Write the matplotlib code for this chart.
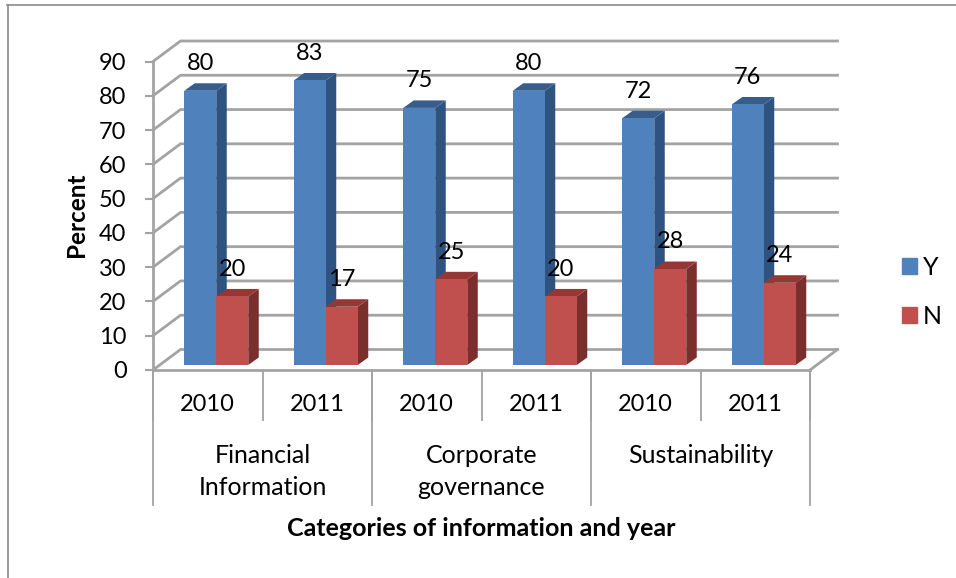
import numpy as np
import matplotlib
matplotlib.use("Agg")
import matplotlib.pyplot as plt
from matplotlib.lines import Line2D
from matplotlib.patches import Patch
from matplotlib.transforms import blended_transform_factory

years = ["2010", "2011", "2010", "2011", "2010", "2011"]
groups = ["Financial\nInformation", "Corporate\ngovernance", "Sustainability"]
yes_vals = [80, 83, 75, 80, 72, 76]
no_vals = [20, 17, 25, 20, 28, 24]
yticks = [0, 10, 20, 30, 40, 50, 60, 70, 80, 90]

W, H = 956, 578
plt.rcParams["font.family"] = ["Lato", "DejaVu Sans"]
GRID = "#a3a3a3"

fig = plt.figure(figsize=(W / 100, H / 100), dpi=100, facecolor="white")
ax = fig.add_axes([153 / W, (H - 370) / H, 657 / W, 308.5 / H])
ax.set_xlim(0, 6)
ax.set_ylim(0, 90)
ax.patch.set_visible(False)

# pixel to data scale, the fake 3d depth is set in pixels
px = 6 / 657
py = 90 / 308.5

# outer chart frame
fig.add_artist(Line2D([7.5 / W, 7.5 / W], [0, 1 - 4.5 / H], color="#8a8a8a", lw=1.2))
fig.add_artist(Line2D([7 / W, 1], [1 - 4.5 / H, 1 - 4.5 / H], color="#8a8a8a", lw=1.2))

# back wall lines and side wall diagonals
wall_x, wall_y = 27.5 * px, 20.5 * py
for t in yticks:
    ax.plot([0, wall_x, 6 + wall_x], [t, t + wall_y, t + wall_y], color=GRID, lw=2,
            clip_on=False, zorder=1, solid_joinstyle="miter")
ax.plot([6, 6 + wall_x], [0, wall_y], color=GRID, lw=2, clip_on=False, zorder=1)

bar_w = 32 * px
off_x, lift = 8.5 * px, 5 * py
depth_x, depth_y = 10.5 * px, 7.5 * py


def bars(left, vals, front, side, top):
    for i, v in zip(left, vals):
        x0, x1, y0, y1 = i, i + bar_w, lift, lift + v
        ax.fill([x1, x1 + depth_x, x1 + depth_x, x1],
                [y0, y0 + depth_y, y1 + depth_y, y1], color=side, lw=0, clip_on=False, zorder=3)
        ax.fill([x0, x0 + depth_x, x1 + depth_x, x1],
                [y1, y1 + depth_y, y1 + depth_y, y1], color=top, lw=0, clip_on=False, zorder=3)
    ax.bar(left, vals, bar_w, bottom=lift, align="edge", color=front, lw=0, clip_on=False, zorder=3)


centers = np.arange(len(years)) + 0.5 + off_x
# blue first, the red column stands in front of its side face
bars(centers - bar_w, yes_vals, "#4f81bd", "#2f5380", "#385d8a")
bars(centers, no_vals, "#c0504d", "#7b2f2d", "#953735")

for c, y, n in zip(centers, yes_vals, no_vals):
    ax.annotate(str(y), (c - bar_w / 2, lift + y), xytext=(0, 19.5), textcoords="offset points",
                ha="center", va="center", fontsize=17, color="black", zorder=5)
    ax.annotate(str(n), (c + bar_w / 2, lift + n), xytext=(0, 19.5), textcoords="offset points",
                ha="center", va="center", fontsize=17, color="black", zorder=5)

for s in ["top", "right"]:
    ax.spines[s].set_visible(False)
for s in ["left", "bottom"]:
    ax.spines[s].set_color(GRID)
    ax.spines[s].set_linewidth(2)

ax.set_yticks(yticks)
ax.tick_params(axis="y", length=6, width=1.5, color=GRID, labelsize=17, pad=13, labelcolor="black")

# year level of the category axis
ax.set_xticks(range(7))
ax.set_xticklabels([])
ax.tick_params(axis="x", which="major", length=37, width=1.3, color=GRID)
ax.set_xticks(np.arange(6) + 0.5, minor=True)
ax.set_xticklabels(years, minor=True, fontsize=17)
ax.tick_params(axis="x", which="minor", length=0, pad=17.5)

# group level of the category axis
tr = blended_transform_factory(ax.transData, fig.transFigure)
for g in range(4):
    ax.plot([g * 2, g * 2], [1 - 370 / H, 1 - 505 / H], transform=tr, color=GRID, lw=1.3, clip_on=False)
for g, name in enumerate(groups):
    ax.text(g * 2 + 1, 1 - 444 / H, name, transform=tr, ha="center", va="top", fontsize=18,
            linespacing=1.48)

fig.text(481 / W, 1 - 529 / H, "Categories of information and year", ha="center", va="center",
         fontsize=18, fontweight="bold")
fig.text(76 / W, 1 - 215 / H, "Percent", ha="center", va="center", rotation=90,
         fontsize=17.5, fontweight="bold")

ax.legend(handles=[Patch(color="#4f81bd", label="Y"), Patch(color="#c0504d", label="N")],
          loc="center left", bbox_to_anchor=(879 / W, 1 - 292 / H), bbox_transform=fig.transFigure,
          frameon=False, fontsize=18, handlelength=0.6, handleheight=0.6, handletextpad=0.25,
          labelspacing=1.04)

fig.savefig("out.png", dpi=100)
